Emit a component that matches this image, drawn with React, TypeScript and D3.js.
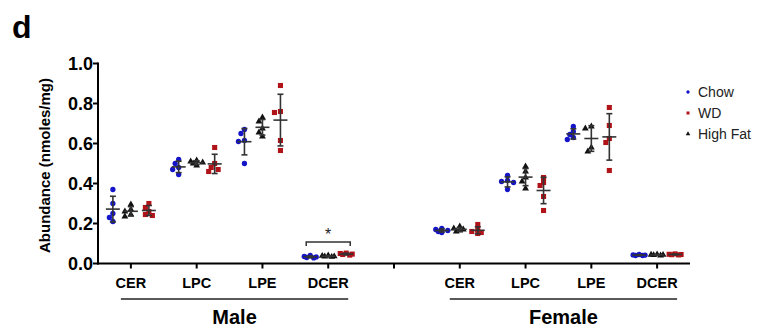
import React from "react";
import * as d3 from "d3";

// lipid classes and diet groups
const LIPIDS = ["CER", "LPC", "LPE", "DCER"];
const DIETS = ["Chow", "High Fat", "WD"];
const LEGEND_ORDER = ["Chow", "WD", "High Fat"];
const DIET_COLORS: Record<string, string> = { Chow: "#1414c8", WD: "#b01318", "High Fat": "#111111" };
const DIET_SHAPES: Record<string, d3.SymbolType> = {
  Chow: d3.symbolCircle,
  WD: d3.symbolSquare,
  "High Fat": d3.symbolTriangle,
};
const Y_TICKS = [0, 0.2, 0.4, 0.6, 0.8, 1.0];

// per-animal values, [CER, LPC, LPE, DCER]
const maleChow = [
  [0.37, 0.30, 0.25, 0.23, 0.21],
  [0.52, 0.50, 0.48, 0.47, 0.445],
  [0.67, 0.65, 0.615, 0.61, 0.50],
  [0.04, 0.035, 0.033, 0.03, 0.028],
];
const maleHighFat = [
  [0.295, 0.27, 0.26, 0.245, 0.235],
  [0.515, 0.51, 0.505, 0.5, 0.49],
  [0.73, 0.71, 0.675, 0.655, 0.635],
  [0.04, 0.038, 0.036, 0.035, 0.033],
];
const maleWD = [
  [0.30, 0.28, 0.26, 0.245, 0.24],
  [0.58, 0.50, 0.48, 0.47, 0.46],
  [0.89, 0.76, 0.755, 0.615, 0.565],
  [0.052, 0.05, 0.047, 0.045, 0.042],
];
const femaleChow = [
  [0.175, 0.17, 0.165, 0.16, 0.155],
  [0.44, 0.415, 0.41, 0.405, 0.37],
  [0.685, 0.66, 0.645, 0.63, 0.62],
  [0.045, 0.043, 0.042, 0.04, 0.04],
];
const femaleHighFat = [
  [0.185, 0.175, 0.17, 0.165, 0.16],
  [0.485, 0.46, 0.43, 0.41, 0.375],
  [0.685, 0.675, 0.58, 0.56],
  [0.046, 0.044, 0.043, 0.042, 0.04],
];
const femaleWD = [
  [0.195, 0.17, 0.16, 0.155, 0.15],
  [0.43, 0.405, 0.39, 0.335, 0.265],
  [0.78, 0.69, 0.625, 0.605, 0.465],
  [0.048, 0.046, 0.045, 0.044, 0.043],
];

const SEXES = [
  { name: "Male", data: { Chow: maleChow, "High Fat": maleHighFat, WD: maleWD } as Record<string, number[][]> },
  { name: "Female", data: { Chow: femaleChow, "High Fat": femaleHighFat, WD: femaleWD } as Record<string, number[][]> },
];

const W = 767;
const H = 328;
const FONT = "'Liberation Sans', Arial, Helvetica, sans-serif";

// small dodge so overlapping markers spread a bit sideways
function dodge(pys: number[], r: number): number[] {
  const order = d3.range(pys.length).sort((a, b) => pys[a] - pys[b]);
  const placed: { x: number; y: number }[] = [];
  const out = new Array(pys.length).fill(0);
  const tries = [0, -3.5, 3.5, -6, 6];
  order.forEach((i) => {
    const y = pys[i];
    let best = 0;
    let bestD = -1;
    for (const t of tries) {
      const d = placed.length ? d3.min(placed, (p) => Math.hypot(p.x - t, p.y - y)) || 0 : 99;
      if (d >= r) { best = t; bestD = d; break; }
      if (d > bestD) { best = t; bestD = d; }
    }
    placed.push({ x: best, y });
    out[i] = best;
  });
  return out;
}

export default function App() {
  const slots = [...LIPIDS.map((l) => "M-" + l), "gap", ...LIPIDS.map((l) => "F-" + l)];
  const x = d3.scaleBand().domain(slots).range([98, 690]);
  const cx = (s: string) => (x(s) || 0) + x.bandwidth() / 2;
  const y = d3.scaleLinear().domain([0, 1]).range([263.5, 63.5]);
  const off = d3.scalePoint().domain(DIETS).range([-18, 18]);
  const sym = (d: string, size: number) => d3.symbol().type(DIET_SHAPES[d]).size(size)() || "";
  const symSize: Record<string, number> = { Chow: 22, WD: 26, "High Fat": 20 };

  const groups: any[] = [];
  SEXES.forEach((sex) => {
    LIPIDS.forEach((lip, li) => {
      const slot = (sex.name === "Male" ? "M-" : "F-") + lip;
      DIETS.forEach((diet) => {
        const vals = sex.data[diet][li];
        const gx = cx(slot) + (off(diet) || 0);
        const dx = dodge(vals.map((v) => y(v)), 4.5);
        const m = d3.mean(vals) || 0;
        const sd = d3.deviation(vals) || 0;
        groups.push({ key: slot + diet, diet, gx, vals, dx, m, sd });
      });
    });
  });

  const y0 = y(0);
  // significance bracket between Chow and WD, male DCER
  const bx1 = cx("M-DCER") + (off("Chow") || 0) - 4;
  const bx2 = cx("M-DCER") + (off("WD") || 0) + 4;
  const by = y(0.108);

  return (
    <svg width={W} height={H} style={{ position: "absolute", left: 0, top: 0, background: "#fff" }} fontFamily={FONT}>
      <text x={12} y={38} fontSize={32} fontWeight={700} fill="#000">d</text>

      {/* y axis */}
      <line x1={x.range()[0]} x2={x.range()[0]} y1={y(1) - 1} y2={y0 + 1} stroke="#000" strokeWidth={2} />
      {Y_TICKS.map((t) => (
        <g key={t}>
          <line x1={x.range()[0] - 5} x2={x.range()[0]} y1={y(t)} y2={y(t)} stroke="#000" strokeWidth={2} />
          <text x={x.range()[0] - 5} y={y(t)} dy="0.36em" textAnchor="end" fontSize={18} fontWeight={700}>
            {d3.format(".1f")(t)}
          </text>
        </g>
      ))}
      <text transform={`translate(50,${(y(0) + y(1)) / 2 + 2}) rotate(-90)`} textAnchor="middle" fontSize={15} fontWeight={700}>
        Abundance (nmoles/mg)
      </text>

      {/* x axis */}
      <line x1={x.range()[0] - 1} x2={x.range()[1]} y1={y0} y2={y0} stroke="#000" strokeWidth={2} />
      {slots.map((s) => (
        <g key={s}>
          <line x1={cx(s)} x2={cx(s)} y1={y0} y2={y0 + 5} stroke="#000" strokeWidth={2} />
          {s !== "gap" && (
            <text x={cx(s)} y={288} textAnchor="middle" fontSize={14.5} fontWeight={700}>
              {s.slice(2)}
            </text>
          )}
        </g>
      ))}
      {SEXES.map((sex) => {
        const p = sex.name === "Male" ? "M-" : "F-";
        const a = cx(p + LIPIDS[0]) - 10;
        const b = cx(p + LIPIDS[LIPIDS.length - 1]) + 20;
        return (
          <g key={sex.name}>
            <line x1={a} x2={b} y1={299} y2={299} stroke="#222" strokeWidth={1.6} />
            <text x={(a + b) / 2} y={324} textAnchor="middle" fontSize={20} fontWeight={700}>
              {sex.name}
            </text>
          </g>
        );
      })}

      {/* points */}
      {groups.map((g) => (
        <g key={g.key}>
          {g.vals.map((v: number, i: number) => (
            <path
              key={i}
              transform={`translate(${g.gx + g.dx[i]},${y(v)})`}
              d={sym(g.diet, symSize[g.diet])}
              fill={DIET_COLORS[g.diet]}
            />
          ))}
        </g>
      ))}

      {/* mean ± SD */}
      {groups.map((g) => (
        <g key={"e" + g.key} stroke="#333" strokeWidth={1.6}>
          <line x1={g.gx} x2={g.gx} y1={y(g.m + g.sd)} y2={y(Math.max(0, g.m - g.sd))} />
          <line x1={g.gx - 7} x2={g.gx + 7} y1={y(g.m)} y2={y(g.m)} />
          <line x1={g.gx - 3} x2={g.gx + 3} y1={y(g.m + g.sd)} y2={y(g.m + g.sd)} />
          <line x1={g.gx - 3} x2={g.gx + 3} y1={y(Math.max(0, g.m - g.sd))} y2={y(Math.max(0, g.m - g.sd))} />
        </g>
      ))}

      <path d={`M${bx1},${by + 4}V${by}H${bx2}V${by + 4}`} fill="none" stroke="#333" strokeWidth={1.5} />
      <text x={(bx1 + bx2) / 2} y={by - 2} textAnchor="middle" fontSize={16} fill="#222">*</text>

      {/* legend */}
      {LEGEND_ORDER.map((d, i) => (
        <g key={d} transform={`translate(688,${92 + i * 21})`}>
          <path d={sym(d, 9)} fill={DIET_COLORS[d]} />
          <text x={10} dy="0.35em" fontSize={14} fill="#222">{d}</text>
        </g>
      ))}
    </svg>
  );
}
